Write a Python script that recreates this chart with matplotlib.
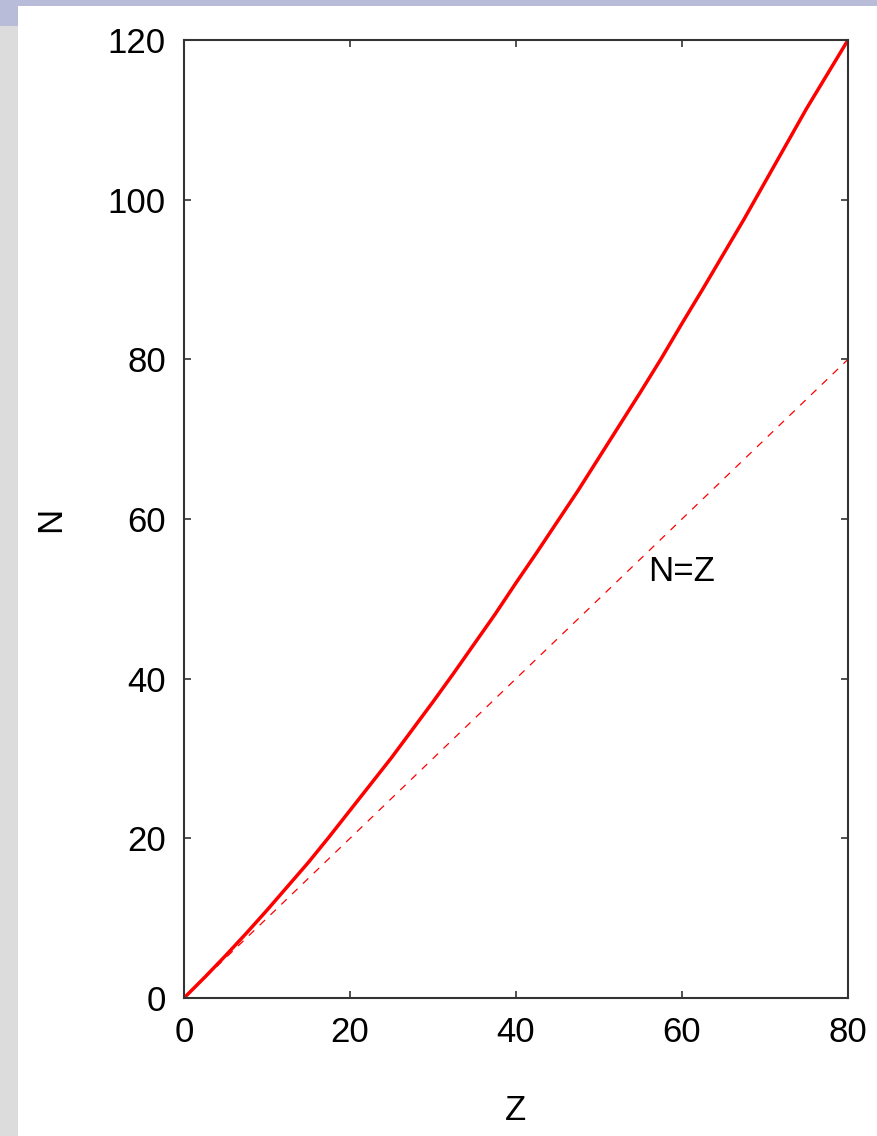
import matplotlib
matplotlib.use("Agg")
import matplotlib.pyplot as plt
from matplotlib.patches import Rectangle

# Data
z_stable = [0, 2.5, 5, 7.5, 10, 12.5, 15, 17.5, 20, 22.5, 25, 27.5, 30, 32.5, 35, 37.5, 40,
            42.5, 45, 47.5, 50, 52.5, 55, 57.5, 60, 62.5, 65, 67.5, 70, 72.5, 75, 77.5, 80]
n_stable = [0, 2.6, 5.3, 8.1, 11.0, 14.0, 17.0, 20.2, 23.5, 26.8, 30.1, 33.6, 37.1, 40.7, 44.4, 48.1, 52.0,
            55.8, 59.7, 63.6, 67.7, 71.8, 75.9, 80.1, 84.5, 88.8, 93.2, 97.6, 102.2, 106.8, 111.4, 115.7, 120]
z_equal = [0, 80]
n_equal = [0, 80]
x_ticks = [0, 20, 40, 60, 80]
y_ticks = [0, 20, 40, 60, 80, 100, 120]
annot_text = "N=Z"
annot_pos = (55.9, 53.4)

plt.rcParams['font.family'] = ['Liberation Sans', 'DejaVu Sans']

W, H = 878, 1136
fig = plt.figure(figsize=(W / 100, H / 100), dpi=100)
fig.patch.set_facecolor('white')

# window frame strips
fig.patches.append(Rectangle((0, 1 - 6 / H), 1, 6 / H, transform=fig.transFigure,
                             facecolor='#b8bcd8', edgecolor='none', zorder=-10))
fig.patches.append(Rectangle((0, 1 - 26 / H), 18 / W, 26 / H, transform=fig.transFigure,
                             facecolor='#b8bcd8', edgecolor='none', zorder=-10))
fig.patches.append(Rectangle((0, 0), 18 / W, 1 - 26 / H, transform=fig.transFigure,
                             facecolor='#dcdcdc', edgecolor='none', zorder=-10))

left, right, top, bottom = 184, 848, 40, 998
ax = fig.add_axes([left / W, 1 - bottom / H, (right - left) / W, (bottom - top) / H])

ax.plot(z_stable, n_stable, color='#ff0000', lw=2.5, solid_capstyle='round',
        solid_joinstyle='round')
ax.plot(z_equal, n_equal, color='#ff0000', lw=0.9, linestyle=(0, (6, 6)))
ax.text(annot_pos[0], annot_pos[1], annot_text, fontsize=25, ha='left', va='center', color='black')

ax.set_xlim(0, 80)
ax.set_ylim(0, 120)
ax.set_xticks(x_ticks)
ax.set_yticks(y_ticks)
ax.tick_params(direction='in', length=5, width=1.2, top=True, right=True,
               labelsize=25, pad=13, colors='#333333', labelcolor='black')
for s in ax.spines.values():
    s.set_color('#333333')
    s.set_linewidth(1.5)

ax.set_xlabel('Z', fontsize=25, labelpad=32)
ax.set_ylabel('N', fontsize=25, labelpad=29)

fig.savefig('out.png', dpi=100, facecolor=fig.get_facecolor())
